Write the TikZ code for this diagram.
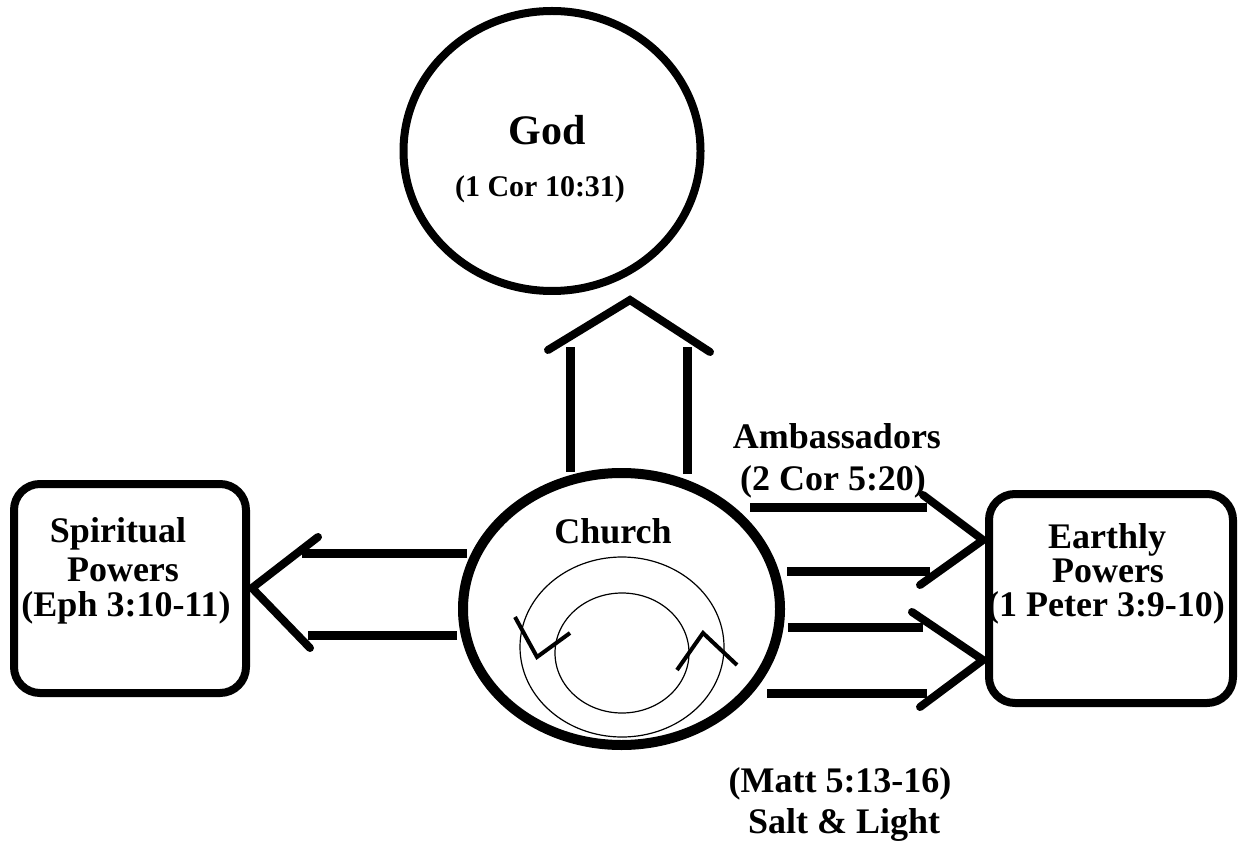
\documentclass[tikz,border=0pt]{standalone}
\usepackage{fontspec}
\setmainfont{Liberation Serif}
\usetikzlibrary{shapes.geometric}
\begin{document}
\begin{tikzpicture}[x=0.5pt,y=-0.5pt,
  lbl/.style={font=\fontsize{18}{21}\selectfont\bfseries, anchor=base, inner sep=0pt},
  godlbl/.style={font=\fontsize{21}{24}\selectfont\bfseries, anchor=base, inner sep=0pt},
  godref/.style={font=\fontsize{15}{18}\selectfont\bfseries, anchor=base, inner sep=0pt},
  bar/.style={line width=4.5pt, line cap=butt},
  head/.style={line width=4pt, line cap=round, line join=miter},
  thinring/.style={line width=0.6pt},
  powerbox/.style={draw, line width=4pt, rounded corners=13pt, rectangle, inner sep=0pt}]
\fill[white] (0,0) rectangle (1241,844);
\useasboundingbox (0,0) rectangle (1241,844);

% main shapes
\node[ellipse, draw, line width=4pt, minimum width=148.5pt, minimum height=140pt, inner sep=0pt] (god) at (552,151) {};
\node[ellipse, draw, line width=5pt, minimum width=158.5pt, minimum height=136pt, inner sep=0pt] (church) at (621.5,609) {};
\node[powerbox, minimum width=116pt, minimum height=104.5pt] (spirit) at (130,588.5) {};
\node[powerbox, minimum width=122pt, minimum height=104.5pt] (earth) at (1111,598.5) {};

% texts
\node[godlbl] (tgod) at (547,145) {God};
\node[godref] (tgodref) at (540,197) {(1 Cor 10:31)};
\node[lbl] (tchurch) at (613,543) {Church};
\node[lbl] (ts1) at (118,542) {Spiritual};
\node[lbl] (ts2) at (123,581) {Powers};
\node[lbl] (ts3) at (126,616) {(Eph 3:10-11)};
\node[lbl] (te1) at (1107,548) {Earthly};
\node[lbl] (te2) at (1108,582) {Powers};
\node[lbl] (te3) at (1106,616) {(1 Peter 3:9-10)};
\node[lbl] (ta1) at (837,448) {Ambassadors};
\node[lbl] (ta2) at (833,490) {(2 Cor 5:20)};
\node[lbl] (tm1) at (840,792) {(Matt 5:13-16)};
\node[lbl] (tm2) at (844,833) {Salt \& Light};

% inner rings
\draw[thinring] (622,647) ellipse [x radius=102, y radius=90];
\draw[thinring] (622,653) ellipse [x radius=67, y radius=60];
\coordinate (rl1) at (515,617); \coordinate (rl2) at (537,657); \coordinate (rl3) at (570,633);
\coordinate (rr1) at (677,670); \coordinate (rr2) at (703,633); \coordinate (rr3) at (737,665);
\draw[line width=2pt, line join=miter] (rl1) -- (rl2) -- (rl3);
\draw[line width=2pt, line join=miter] (rr1) -- (rr2) -- (rr3);

% up arrow (church -> god)
\coordinate (u1a) at (570,347); \coordinate (u1b) at (570,472);
\coordinate (u2a) at (687,347); \coordinate (u2b) at (687,474);
\draw[bar] (u1b) -- (u1a);
\draw[bar] (u2b) -- (u2a);
\coordinate (uh1) at (548,350); \coordinate (uapex) at (630,300); \coordinate (uh2) at (710,352);
\draw[head] (uh1) -- (uapex) -- (uh2);

% left arrow (church -> spiritual powers)
\coordinate (l1a) at (467,553); \coordinate (l1b) at (302,553);
\coordinate (l2a) at (457,635); \coordinate (l2b) at (308,635);
\draw[bar] (l1a) -- (l1b);
\draw[bar] (l2a) -- (l2b);
\coordinate (lh1) at (318,537); \coordinate (lapex) at (252,588); \coordinate (lh2) at (310,648);
\draw[head] (lh1) -- (lapex) -- (lh2);

% right arrows (church -> earthly powers)
\coordinate (r1a) at (750,507); \coordinate (r1b) at (927,507);
\coordinate (r2a) at (787,571); \coordinate (r2b) at (930,571);
\coordinate (r3a) at (788,627); \coordinate (r3b) at (923,627);
\coordinate (r4a) at (767,693); \coordinate (r4b) at (927,693);
\draw[bar] (r1a) -- (r1b);
\draw[bar] (r2a) -- (r2b);
\draw[bar] (r3a) -- (r3b);
\draw[bar] (r4a) -- (r4b);
\coordinate (rh1) at (923,495); \coordinate (rapex1) at (983,540); \coordinate (rh2) at (920,585);
\coordinate (rh3) at (912,612); \coordinate (rapex2) at (983,660); \coordinate (rh4) at (920,707);
\draw[head] (rh1) -- (rapex1) -- (rh2);
\draw[head] (rh3) -- (rapex2) -- (rh4);
\end{tikzpicture}
\end{document}
